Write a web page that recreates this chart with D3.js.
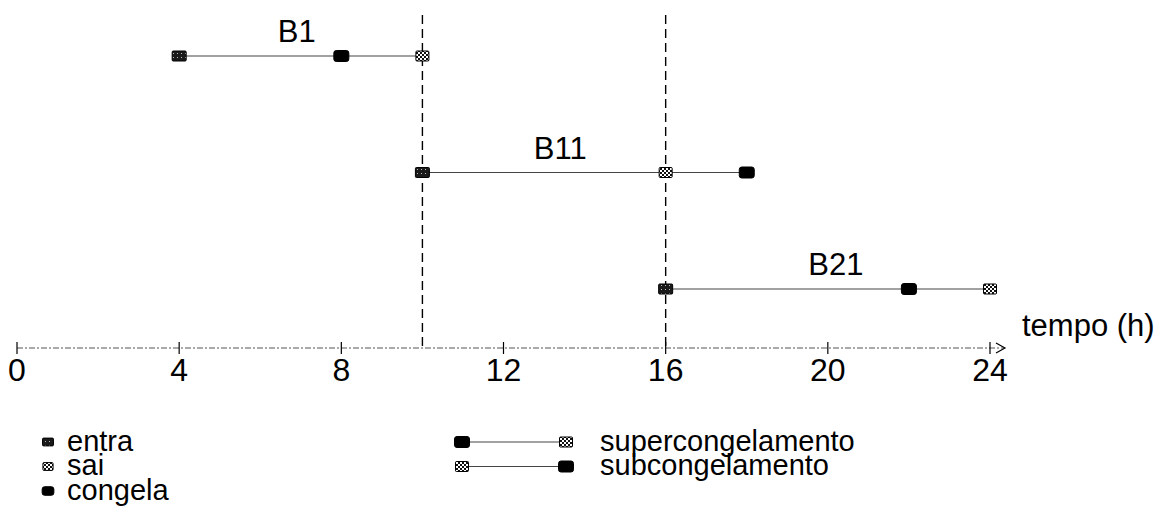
<!DOCTYPE html>
<html>
<head>
<meta charset="utf-8">
<script src="https://d3js.org/d3.v7.min.js"></script>
<style>
  body { margin: 0; background: #fff; }
  svg text { font-family: "Liberation Sans", Arial, sans-serif; fill: #000; }
</style>
</head>
<body>
<svg id="chart" width="1167" height="528"></svg>
<script>
// data
const batches = ['B1', 'B11', 'B21']
const entra = [4, 10, 16]
const congela = [8, 18, 22]
const sai = [10, 16, 24]
const labelAt = [6.9, 13.4, 20.2]   // hours, where batch name sits
const dividers = [10, 16]
const tickValues = [0, 4, 8, 12, 16, 20, 24]
const legendMarks = ['entra', 'sai', 'congela']
const legendRanges = [
  { name: 'supercongelamento', from: 'congela', to: 'sai' },
  { name: 'subcongelamento', from: 'sai', to: 'congela' }
]

const $svg = d3.select('#chart')
const AXIS_Y = 348

const xScale = d3.scaleLinear().domain([0, 24]).range([17, 990])
const yScale = d3.scalePoint().domain(batches).range([56, 289])

// patterns for the markers
const $defs = $svg.append('defs')
const dots = $defs.append('pattern')
  .attr('id', 'pat-entra').attr('width', 4).attr('height', 4)
  .attr('patternUnits', 'userSpaceOnUse')
dots.append('rect').attr('width', 4).attr('height', 4).attr('fill', '#1a1a1a')
dots.append('rect').attr('x', 1).attr('y', 1).attr('width', 1).attr('height', 1).attr('fill', '#bbb')

const check = $defs.append('pattern')
  .attr('id', 'pat-sai').attr('width', 4).attr('height', 4)
  .attr('patternUnits', 'userSpaceOnUse')
check.append('rect').attr('width', 4).attr('height', 4).attr('fill', '#fff')
check.append('rect').attr('width', 2).attr('height', 2).attr('fill', '#111')
check.append('rect').attr('x', 2).attr('y', 2).attr('width', 2).attr('height', 2).attr('fill', '#111')

const MARK = {
  entra: { w: 14, h: 10, fill: 'url(#pat-entra)', rx: 1 },
  sai: { w: 13, h: 10, fill: 'url(#pat-sai)', rx: 1 },
  congela: { w: 15, h: 11, fill: '#000', rx: 2.5 }
}

function drawMark($g, type, cx, cy, scale = 1) {
  const m = MARK[type]
  const w = m.w * scale, h = m.h * scale
  $g.append('rect')
    .attr('x', cx - w / 2).attr('y', cy - h / 2)
    .attr('width', w).attr('height', h)
    .attr('rx', m.rx)
    .attr('fill', m.fill)
    .attr('stroke', '#000').attr('stroke-width', 1)
}

// vertical dashed dividers
$svg.selectAll('.divider')
  .data(dividers)
  .enter().append('line')
    .attr('class', 'divider')
    .attr('x1', d => xScale(d)).attr('x2', d => xScale(d))
    .attr('y1', 15).attr('y2', AXIS_Y)
    .attr('stroke', '#000').attr('stroke-width', 1.4)
    .attr('stroke-dasharray', '9 5')

// time axis
const $axis = $svg.append('g').attr('class', 'x-axis')
$axis.append('line')
  .attr('x1', xScale(0)).attr('x2', xScale(24) + 14)
  .attr('y1', AXIS_Y).attr('y2', AXIS_Y)
  .attr('stroke', '#555').attr('stroke-width', 1)
  .attr('stroke-dasharray', '6 2 2 2')
$axis.append('path')
  .attr('d', `M${xScale(24) + 6},${AXIS_Y - 5} L${xScale(24) + 15},${AXIS_Y} L${xScale(24) + 6},${AXIS_Y + 5}`)
  .attr('fill', 'none').attr('stroke', '#000').attr('stroke-width', 1.2)
$axis.selectAll('.tick')
  .data(tickValues)
  .enter().append('line')
    .attr('class', 'tick')
    .attr('x1', d => xScale(d)).attr('x2', d => xScale(d))
    .attr('y1', AXIS_Y - 6).attr('y2', AXIS_Y + 6)
    .attr('stroke', '#000').attr('stroke-width', 1.2)
$axis.selectAll('.tick-label')
  .data(tickValues)
  .enter().append('text')
    .attr('class', 'tick-label')
    .attr('x', d => xScale(d)).attr('y', 381)
    .attr('text-anchor', 'middle')
    .attr('font-size', 32)
    .text(d => d)
$axis.append('text')
  .attr('x', 1022).attr('y', 336)
  .attr('font-size', 31)
  .text('tempo (h)')

// batches
batches.forEach((b, i) => {
  const y = yScale(b)
  const $g = $svg.append('g').attr('class', 'batch')
  const start = entra[i]
  const end = Math.max(sai[i], congela[i])
  $g.append('line')
    .attr('x1', xScale(start)).attr('x2', xScale(end))
    .attr('y1', y).attr('y2', y)
    .attr('stroke', '#444').attr('stroke-width', 1.1)
  drawMark($g, 'entra', xScale(entra[i]), y)
  drawMark($g, 'congela', xScale(congela[i]), y)
  drawMark($g, 'sai', xScale(sai[i]), y)
  $g.append('text')
    .attr('x', xScale(labelAt[i])).attr('y', y - 14)
    .attr('text-anchor', 'middle')
    .attr('font-size', 31)
    .text(b)
})

// legend, single marks
const $legend = $svg.append('g').attr('class', 'legend')
legendMarks.forEach((name, i) => {
  const y = 442 + i * 24.5
  drawMark($legend, name, 48, y, 0.78)
  $legend.append('text')
    .attr('x', 67).attr('y', y + 8.5)
    .attr('font-size', 29)
    .text(name)
})

// legend, ranges
legendRanges.forEach((r, i) => {
  const y = 442 + i * 24.5
  $legend.append('line')
    .attr('x1', 462).attr('x2', 566)
    .attr('y1', y).attr('y2', y)
    .attr('stroke', '#444').attr('stroke-width', 1.1)
  drawMark($legend, r.from, 462, y)
  drawMark($legend, r.to, 566, y)
  $legend.append('text')
    .attr('x', 600).attr('y', y + 8.5)
    .attr('font-size', 29)
    .text(r.name)
})
</script>
</body>
</html>
